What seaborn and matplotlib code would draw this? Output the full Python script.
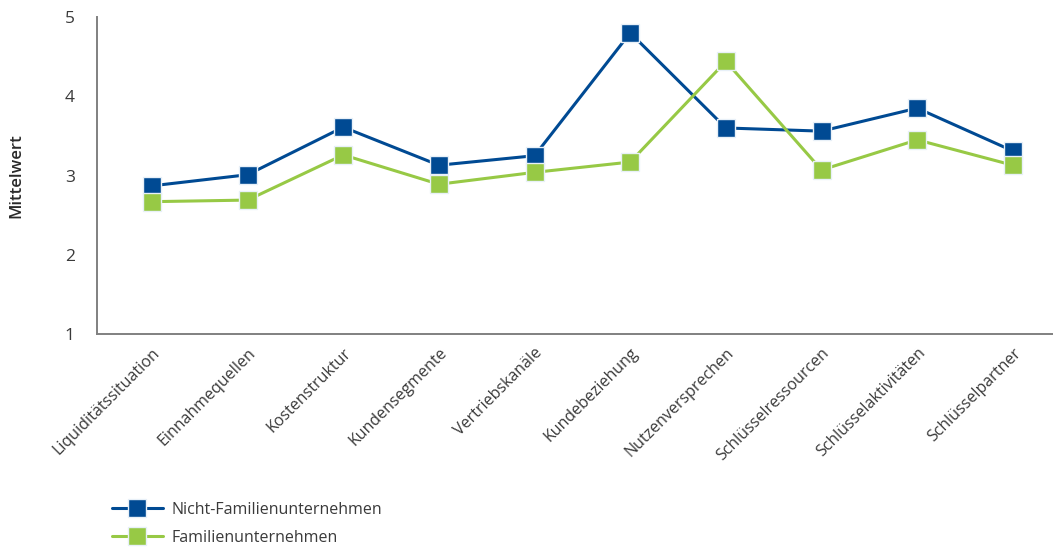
import matplotlib
matplotlib.use("Agg")
import matplotlib.pyplot as plt
import seaborn as sns
import pandas as pd
from matplotlib.lines import Line2D

categories = [
    "Liquiditätssituation", "Einnahmequellen", "Kostenstruktur", "Kundensegmente",
    "Vertriebskanäle", "Kundebeziehung", "Nutzenversprechen", "Schlüsselressourcen",
    "Schlüsselaktivitäten", "Schlüsselpartner",
]
nicht_familien = [2.87, 3.01, 3.61, 3.13, 3.25, 4.80, 3.60, 3.56, 3.85, 3.31]
familien = [2.67, 2.69, 3.26, 2.89, 3.04, 3.17, 4.44, 3.07, 3.45, 3.13]
series_names = ["Nicht-Familienunternehmen", "Familienunternehmen"]
colors = ["#004a93", "#97c945"]
y_ticks = [1, 2, 3, 4, 5]

df = pd.DataFrame({
    "Kategorie": categories * 2,
    "Mittelwert": nicht_familien + familien,
    "Gruppe": [series_names[0]] * len(categories) + [series_names[1]] * len(categories),
})

sns.set_theme(style="white")
plt.rcParams["font.family"] = ["Open Sans", "DejaVu Sans"]
text_color = "#3a3a3a"

fig = plt.figure(figsize=(10.53, 5.49), dpi=100)
ax = fig.add_axes([0.0921, 0.3916, 0.9079, 0.5774])

sns.lineplot(
    data=df, x="Kategorie", y="Mittelwert", hue="Gruppe",
    palette=colors, hue_order=series_names, sort=False,
    marker="s", markersize=13.5, markeredgecolor="#e8f0f8", markeredgewidth=1.0,
    linewidth=2.2, legend=False, ax=ax,
)

ax.set_ylim(1, 5)
ax.set_xlim(-0.575, 9.42)
ax.set_yticks(y_ticks)
ax.set_yticklabels([str(t) for t in y_ticks], fontsize=12.5, color=text_color)
ax.set_xticks(range(len(categories)))
ax.set_xticklabels(categories, rotation=45, ha="right", rotation_mode="anchor",
                   fontsize=11.5, color=text_color)
ax.tick_params(axis="both", length=0)
ax.tick_params(axis="y", pad=16)
ax.tick_params(axis="x", pad=8)
ax.set_xlabel("")
ax.set_ylabel("Mittelwert", fontsize=12, color="#2a2a2a", fontweight="semibold")
ax.yaxis.set_label_coords(-0.076, 0.5)

for side in ["top", "right"]:
    ax.spines[side].set_visible(False)
for side in ["left", "bottom"]:
    ax.spines[side].set_color("#808080")
    ax.spines[side].set_linewidth(1.4)

handles = [
    Line2D([0], [0], color=c, linewidth=2.2, marker="s", markersize=12.5,
           markeredgecolor="#e8f0f8", markeredgewidth=1.0)
    for c in colors
]
leg = fig.legend(handles, series_names, loc="lower left", bbox_to_anchor=(0.1, -0.006),
                 frameon=False, fontsize=11.5, handlelength=3.2, labelspacing=0.75,
                 handletextpad=0.55, borderaxespad=0.0)
for t in leg.get_texts():
    t.set_color(text_color)

fig.savefig("out.png", dpi=100, facecolor="white")
